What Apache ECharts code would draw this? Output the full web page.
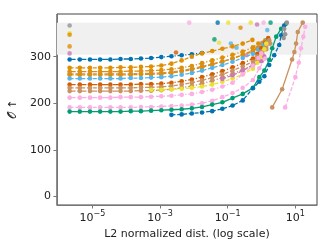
<!DOCTYPE html>
<html><head><meta charset="utf-8">
<script src="https://cdn.jsdelivr.net/npm/echarts@6/dist/echarts.min.js"></script>
<style>html,body{margin:0;padding:0;background:#fff}#c{width:332px;height:249px}</style>
</head><body><div id="c"></div>
<script>
// shared distance grid (L2 normalized dist.)
const grid = [2.12e-6, 4.24e-6, 8.47e-6, 1.69e-5, 3.39e-5, 6.78e-5, 1.36e-4, 2.72e-4, 5.43e-4, 1.09e-3, 2.17e-3, 4.35e-3, 8.69e-3, 1.74e-2, 3.48e-2, 6.95e-2, 0.139, 0.278, 0.556];
const xTicks = [1e-5, 1e-3, 1e-1, 10];
const yTicks = [0, 100, 200, 300];
const band = [304, 373];

// values on the grid (null = no point) + extra tail points [dist, value]
const blueTop = [294,294,294,294,294,295,295,296,297,299,301,303,305,308,null,null,null,null,null];
const orange1 = [276,276,276,276,276,277,277,278,279,281,285,292,300,307,312,317,322,328,null];
const orange1Tail = [[0.537,336]];
const orange2 = [268,268,268,268,268,268,269,269,270,271,273,276,280,286,292,298,304,311,320];
const orange2Tail = [[0.805,328]];
const brown1 = [263,263,263,263,263,263,263,264,264,265,267,270,274,279,284,290,296,303,311];
const brown1Tail = [[0.805,320],[1.06,330]];
const orange3 = [261,261,261,261,261,261,261,262,262,263,265,268,272,277,283,289,296,304,313];
const orange3Tail = [[0.753,318],[1.06,326],[1.29,335]];
const lightBlue = [253,253,253,253,253,253,254,254,255,256,258,261,265,270,276,282,289,297,306];
const lightBlueTail = [[0.805,316],[1.13,326],[1.48,336]];
const red = [240,240,240,240,240,240,240,241,241,242,244,247,251,256,262,269,277,286,296];
const redTail = [[0.753,306],[0.986,318],[1.29,330],[1.58,340]];
const brown2 = [233,233,233,233,233,233,233,234,234,235,237,240,244,249,255,262,270,279,289];
const brown2Tail = [[0.753,300],[1.06,312],[1.38,324],[1.69,335]];
const brown3 = [226,226,226,226,226,226,226,227,227,228,230,233,237,242,248,255,263,272,282];
const brown3Tail = [[0.753,293],[1.06,305],[1.38,316],[1.81,328]];
const yellow = [null,null,null,null,null,null,null,null,229,229,230,231,233,236,240,246,253,262,274];
const yellowTail = [[0.753,287],[0.986,300],[1.21,316],[1.38,328]];
const purple = [null,null,null,null,null,null,null,null,null,null,null,null,null,null,null,252,260,270,282];
const purpleTail = [[0.986,290],[1.21,300]];
const pink1 = [212,212,212,212,212,213,213,213,214,215,216,218,220,224,229,236,244,262,281];
const pink1Tail = [[0.805,297],[0.986,307]];
const pink2 = [191,191,191,191,191,191,191,192,192,193,194,195,197,200,205,213,222,233,250];
const pink2Tail = [[0.861,275],[1.29,296]];
const green = [182,182,182,182,182,182,183,183,184,185,186,187,189,192,197,202,211,220,233];
const greenTail = [[0.861,256],[1.21,270],[1.69,293],[2.07,318],[2.72,343],[3.81,360],[5.34,371]];
const blueLow = [null,null,null,null,null,null,null,null,null,null,175,176,178,180,183,188,195,206,232];
const blueLowTail = [[0.861,246],[1.21,258],[1.69,282],[2.37,303],[3.33,325],[3.81,346],[4.67,367]];
const brownSteep = [[2.07,191],[4.07,230],[8.0,294],[9.35,310],[10.5,328],[11.8,353],[16.5,373]];
const pinkSteep = [[4.99,191],[10.0,256],[12.6,287],[14.7,318],[17.2,343],[19.6,364]];
const grayLine = [[4.51,340],[4.99,348],[4.67,360],[5.60,373]];

// isolated points
const dotsGray = [[2.12e-6,367]];
const dotsYellow = [[2.12e-6,350],[0.0552,330],[0.104,373],[0.479,373]];
const dotsOrange = [[2.12e-6,347],[2.12e-6,322],[0.239,362]];
const dotsPurple = [[2.12e-6,307],[0.738,369],[0.358,303]];
const dotsPink = [[0.00728,373],[1.15,373]];
const dotsBlue = [[0.0506,373]];
const dotsGreen = [[0.0405,337],[1.85,373]];
const dotsLightBlue = [[0.124,328],[0.182,319],[1.48,357]];
const dotsRed = [[0.00296,309]];

const C = {blue:'#0173b2', orange:'#de8f05', green:'#029e73', red:'#d55e00', purple:'#cc78bc', brown:'#ca9161', pink:'#fbafe4', gray:'#949494', yellow:'#ece133', lb:'#56b4e9'};
const DASH = [4,1.8], DASHDOT = [6,1.8,1.2,1.8];

function onGrid(vals, tail){
  const out = [];
  vals.forEach((v,i)=>{ if(v!=null) out.push([grid[i], v]); });
  return out.concat(tail || []);
}
function line(data, color, dash, extra){
  return Object.assign({type:'line', data, symbol:'circle', symbolSize:4.6, showSymbol:true,
    itemStyle:{color}, lineStyle:{color, width:1.3, type:dash}, animation:false, silent:true}, extra||{});
}
function dots(data, color){
  return {type:'scatter', data, symbol:'circle', symbolSize:4.6, itemStyle:{color}, animation:false, silent:true};
}

const series = [
  line(onGrid(blueTop), C.blue, DASHDOT, {markArea:{silent:true, itemStyle:{color:'#f0f0f0'}, data:[[{yAxis:band[0]},{yAxis:band[1]}]]}}),
  line(onGrid(orange1, orange1Tail), C.orange, DASH),
  line(onGrid(orange2, orange2Tail), C.orange, DASHDOT),
  line(onGrid(brown1, brown1Tail), C.brown, DASH),
  line(onGrid(orange3, orange3Tail), C.orange, DASH),
  line(onGrid(lightBlue, lightBlueTail), C.lb, DASH),
  line(onGrid(red, redTail), C.red, DASHDOT),
  line(onGrid(brown2, brown2Tail), C.brown, DASH),
  line(onGrid(brown3, brown3Tail), C.brown, DASHDOT),
  line(onGrid(yellow, yellowTail), C.yellow, DASH),
  line(onGrid(purple, purpleTail), C.purple, DASH),
  line(onGrid(pink1, pink1Tail), C.pink, DASHDOT),
  line(onGrid(pink2, pink2Tail), C.pink, DASH),
  line(onGrid(green, greenTail), C.green, 'solid'),
  line(onGrid(blueLow, blueLowTail), C.blue, DASH),
  line(brownSteep, C.brown, 'solid'),
  line(pinkSteep, C.pink, DASH),
  line(grayLine, C.gray, DASH),
  dots(dotsGray, C.gray), dots(dotsYellow, C.yellow), dots(dotsOrange, C.orange),
  dots(dotsPurple, C.purple), dots(dotsPink, C.pink), dots(dotsBlue, C.blue),
  dots(dotsGreen, C.green), dots(dotsLightBlue, C.lb), dots(dotsRed, C.red)
];

const chart = echarts.init(document.getElementById('c'), null, {renderer:'canvas'});
chart.setOption({
  animation:false,
  grid:{left:55, right:15, top:14, bottom:44, show:true, borderColor:'#444', borderWidth:1, backgroundColor:'transparent'},
  xAxis:{type:'log', logBase:10, min:Math.pow(10,-6.05), max:Math.pow(10,1.64),
    name:'L2 normalized dist. (log scale)', nameLocation:'middle', nameGap:14,
    nameTextStyle:{fontSize:11, color:'#222', fontFamily:'DejaVu Sans'},
    axisLine:{show:true, onZero:false, lineStyle:{color:'#777', width:1}},
    axisTick:{show:true, length:3.5, customValues:xTicks, lineStyle:{color:'#777'}},
    minorTick:{show:false}, splitLine:{show:false},
    axisLabel:{customValues:xTicks, margin:5, fontFamily:'DejaVu Sans',
      formatter:function(v){ const e=Math.round(Math.log10(v)); return '{b|10}{s|'+(e<0?'\u2212':'')+Math.abs(e)+'}'; },
      rich:{b:{fontSize:11, color:'#222', fontFamily:'DejaVu Sans', lineHeight:14, verticalAlign:'bottom'},
            s:{fontSize:8, color:'#222', fontFamily:'DejaVu Sans', lineHeight:9, verticalAlign:'top'}}}
  },
  yAxis:{type:'value', min:-18.6, max:391.6,
    name:'\uD835\uDCAA \u2191', nameLocation:'middle', nameGap:33, nameRotate:90,
    nameTextStyle:{fontSize:11, color:'#222', fontFamily:'DejaVu Sans'},
    axisLine:{show:true, onZero:false, lineStyle:{color:'#777', width:1}},
    axisTick:{show:true, length:3.5, customValues:yTicks, lineStyle:{color:'#777'}},
    splitLine:{show:false},
    axisLabel:{customValues:yTicks, margin:6, fontSize:11, color:'#222', fontFamily:'DejaVu Sans'}
  },
  series
});
</script></body></html>
